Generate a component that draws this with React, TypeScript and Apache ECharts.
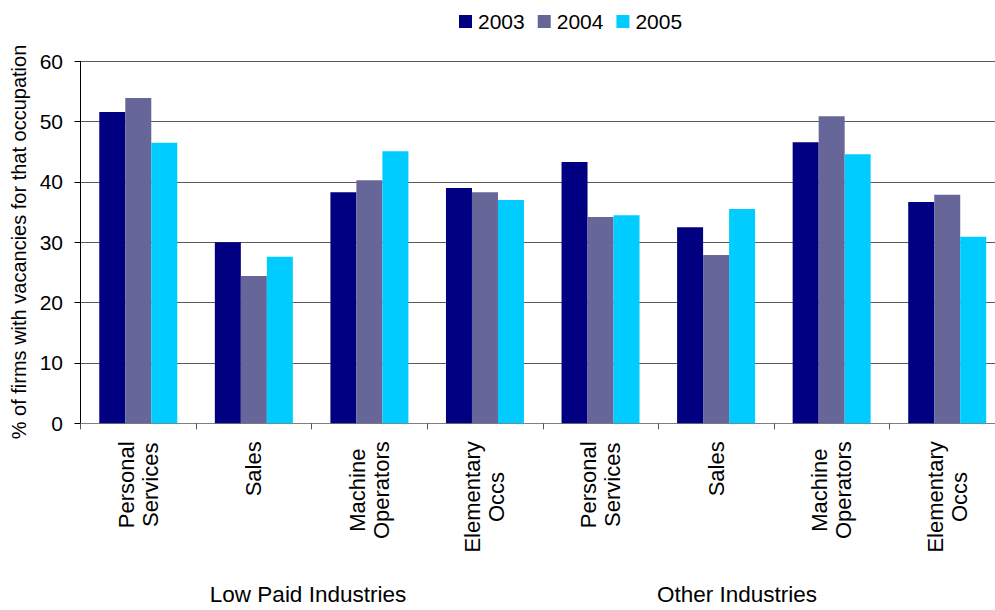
import React, { useEffect, useRef } from "react";
import * as echarts from "echarts";

const categories = [
  "Personal\nServices",
  "Sales",
  "Machine\nOperators",
  "Elementary\nOccs",
  "Personal\nServices",
  "Sales",
  "Machine\nOperators",
  "Elementary\nOccs",
];
const years = ["2003", "2004", "2005"];
const s2003 = [51.6, 30.0, 38.3, 39.0, 43.3, 32.5, 46.6, 36.7];
const s2004 = [53.9, 24.4, 40.3, 38.3, 34.2, 27.9, 50.9, 37.9];
const s2005 = [46.5, 27.6, 45.1, 37.0, 34.5, 35.5, 44.6, 30.9];
const groupLabels = ["Low Paid Industries", "Other Industries"];
const yAxisTitle = "% of firms with vacancies for that occupation";

const FONT = "'Liberation Sans', Arial, Helvetica, sans-serif";
const colors = ["#000080", "#666699", "#00CCFF"];

export default function App() {
  const ref = useRef<HTMLDivElement>(null);
  useEffect(() => {
    if (!ref.current) return;
    const chart = echarts.init(ref.current, null, { renderer: "svg" });
    const seriesData = [s2003, s2004, s2005];
    chart.setOption({
      animation: false,
      backgroundColor: "#ffffff",
      textStyle: { fontFamily: FONT },
      color: colors,
      legend: {
        data: years,
        left: 454,
        top: 6,
        icon: "rect",
        itemWidth: 13,
        itemHeight: 13,
        itemGap: 13,
        textStyle: { fontFamily: FONT, fontSize: 21, color: "#000", padding: [0, 0, 0, 1] },
      },
      grid: {
        left: 80.5,
        width: 924.5,
        top: 61.3,
        bottom: 186.7,
        containLabel: false,
        outerBoundsMode: "none",
      },
      xAxis: {
        type: "category",
        data: categories,
        axisLine: { show: true, lineStyle: { color: "#808080", width: 1 } },
        axisTick: { show: true, length: 6, lineStyle: { color: "#555" } },
        axisLabel: {
          interval: 0,
          rotate: 90,
          margin: 18,
          formatter: (v: string) =>
            v
              .split("\n")
              .map((l) => `{c|${l}}`)
              .join("\n"),
          rich: {
            c: {
              align: "center",
              fontFamily: FONT,
              fontSize: 22,
              lineHeight: 24,
              color: "#000",
            },
          },
        },
      },
      yAxis: {
        type: "value",
        min: 0,
        max: 60,
        interval: 10,
        axisLine: { show: true, lineStyle: { color: "#000", width: 1 } },
        axisTick: { show: true, length: 6, lineStyle: { color: "#000" } },
        axisLabel: { fontFamily: FONT, fontSize: 21, color: "#000", margin: 17.5 },
        splitLine: { show: true, lineStyle: { color: "#5a5a5a", width: 1 } },
      },
      series: years.map((y, i) => ({
        name: y,
        type: "bar",
        data: seriesData[i],
        barWidth: 26,
        barGap: "0%",
        itemStyle: { color: colors[i] },
      })),
      graphic: [
        {
          type: "text",
          x: 19,
          y: 242,
          rotation: Math.PI / 2,
          style: {
            text: yAxisTitle,
            font: `20px ${FONT}`,
            fill: "#000",
            align: "center",
            verticalAlign: "middle",
          },
        },
        {
          type: "text",
          x: 308,
          y: 594,
          style: {
            text: groupLabels[0],
            font: `22.5px ${FONT}`,
            fill: "#000",
            align: "center",
            verticalAlign: "middle",
          },
        },
        {
          type: "text",
          x: 737,
          y: 594,
          style: {
            text: groupLabels[1],
            font: `22.5px ${FONT}`,
            fill: "#000",
            align: "center",
            verticalAlign: "middle",
          },
        },
      ],
    });
    return () => chart.dispose();
  }, []);
  return (
    <div
      ref={ref}
      style={{ position: "absolute", left: 0, top: 0, width: 995, height: 610 }}
    />
  );
}
